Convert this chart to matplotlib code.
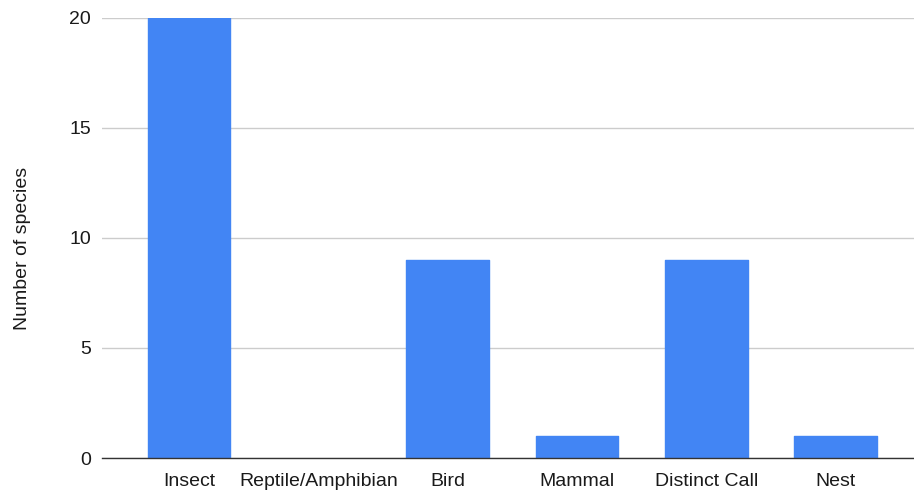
import matplotlib.pyplot as plt

# species counts per detection type
categories = ["Insect", "Reptile/Amphibian", "Bird", "Mammal", "Distinct Call", "Nest"]
counts = [20, 0, 9, 1, 9, 1]
y_ticks = [0, 5, 10, 15, 20]

plt.rcParams["font.family"] = ["Liberation Sans", "DejaVu Sans"]

fig = plt.figure(figsize=(9.14, 4.91), dpi=100)
ax = fig.add_axes([0.1116, 0.0672, 0.8884, 0.8968])

x = range(len(categories))
# thin matching edge rounds the corners a little; skip it on empty bars
edge_widths = [1.0 if c > 0 else 0 for c in counts]
ax.bar(x, counts, width=0.64, color="#4285F4", edgecolor="#4285F4",
       linewidth=edge_widths, joinstyle="round", zorder=3)

ax.set_xlim(-0.673, 5.607)
ax.set_ylim(0, 20)
ax.set_xticks(list(x))
ax.set_xticklabels(categories)
ax.set_yticks(y_ticks)

# light horizontal grid, darker baseline
ax.grid(axis="y", color="#cccccc", linewidth=1, zorder=0)
for side in ["top", "right", "left"]:
    ax.spines[side].set_visible(False)
ax.spines["bottom"].set_color("#333333")
ax.spines["bottom"].set_linewidth(1)
ax.spines["bottom"].set_zorder(4)

ax.tick_params(axis="both", length=0, labelsize=14, labelcolor="#1a1a1a")
ax.tick_params(axis="y", pad=8)
ax.tick_params(axis="x", pad=11)

ax.set_ylabel("Number of species", fontsize=14, color="#1a1a1a")
ax.yaxis.set_label_coords(-0.088, 0.475)

fig.savefig("out.png", dpi=100)
